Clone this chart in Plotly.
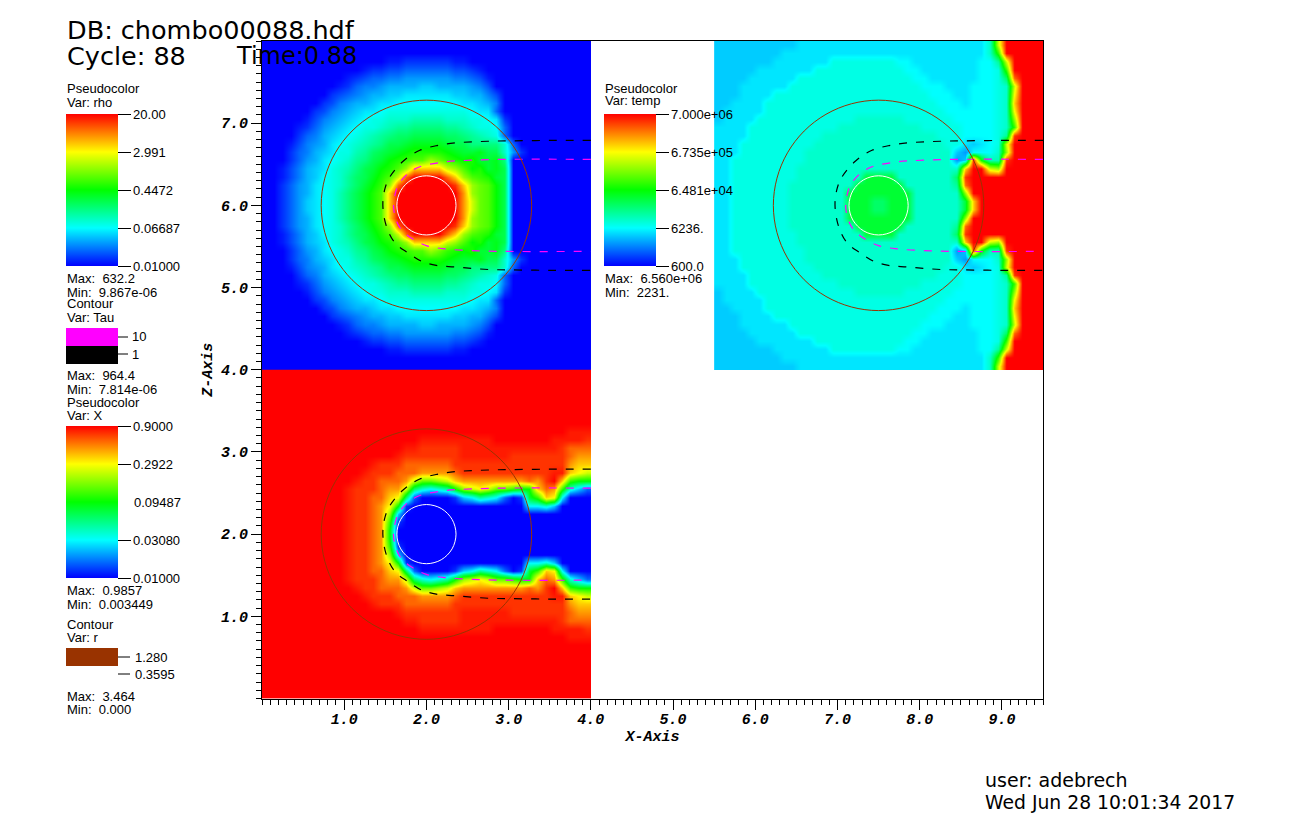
import plotly.graph_objects as go

W, H = 1305, 814  # the page keeps an 8px body margin, so everything below is offset by it
OFF = 8

# colour levels, one letter per 0.1 x 0.1 cell, top row first.
# a = blue, f = cyan, k = green, p = yellow, u = red, capital = half a step above
RHO_ROWS = [
    "aaaaaaaaaaaaaaaaaaaaaaaaaaaaaaaaaaaaaaaa",
    "aaaaaaaaaaaaaaaaaaaaaaaaaaaaaaaaaaaaaaaa",
    "aaaaaaaaaaaaaaaAAbbb" + "bbbAAaaaaaaaaaaaaaaa",
    "aaaaaaaaaaaaAbbBBccc" + "cccBBbAaaaaaaaaaaaaa",
    "aaaaaaaaaaAbBccCCddd" + "dddCCcBAaaaaaaaaaaaa",
    "aaaaaaaaaAbcCCdDDDDe" + "eDDDDdCBaaaaaaaaaaaa",
    "aaaaaaaabBcCdDDeeEEE" + "EEEeeDDCBaaaaaaaaaaa",
    "aaaaaaabBCdDDeEEffff" + "ffffEEeDCaaaaaaaaaaa",
    "aaaaaabBCdDeEEfFFFFF" + "FFFFFfEEcaaaaaaaaaaa",
    "aaaaaABCdDeEfFFgggGG" + "GGgggFFfEbaaaaaaaaaa",
    "aaaaAbcdDeEfFFgGhhHH" + "HHhhGgFFfcaaaaaaaaaa",
    "aaaabcCDeEfFgGhHiiII" + "IIiiHhGgFcaaaaaaaaaa",
    "aaaABCdDEfFgGhHIIjJJ" + "JJjIIHHHHgcaaaaaaaaa",
    "aaabcCDeEFFGhiIjJkKK" + "KKkJjjJIIgdbaaaaaaaa",
    "aaabcdDEfFghHIjkKlLL" + "nmlKkKjjJHaaaaaaaaaa",
    "aaABCDeEFgGHIjkKLnqq" + "qqonLkKjJIaaaaaaaaaa",
    "aaABCDefFghiIJKLosuu" + "uusqnLlKjIaaaaaaaaaa",
    "aabcdDEfFghijklnsuuu" + "uuutqnmLkIaaaaaaaaaa",
    "aabcdDEfFGHIJKLquuuu" + "uuuurnmLkIaaaaaaaaaa",
    "aabcdeEfFGHIJKLquuuu" + "uuuuromLkIaaaaaaaaaa",
    "aabcdeEfFGHIJKLquuuu" + "uuuuromLkIaaaaaaaaaa",
    "aabcdDEfFGHIJKLquuuu" + "uuuurnmLkIaaaaaaaaaa",
    "aabcdDEfFghijklnsuuu" + "uuutqnmLkIaaaaaaaaaa",
    "aaABCDefFghiIJKLosuu" + "uusqnLlKjIaaaaaaaaaa",
    "aaABCDeEFgGHIjkKLnqq" + "qqonLkKjJIaaaaaaaaaa",
    "aaabcdDEfFghHIjkKlLL" + "nmlKkKjjJHaaaaaaaaaa",
    "aaabcCDeEFFGhiIjJkKK" + "KKkJjjJIIgdbaaaaaaaa",
    "aaaABCdDEfFgGhHIIjJJ" + "JJjIIHHHHgcaaaaaaaaa",
    "aaaabcCDeEfFgGhHiiII" + "IIiiHhGgFcaaaaaaaaaa",
    "aaaaAbcdDeEfFFgGhhHH" + "HHhhGgFFfcaaaaaaaaaa",
    "aaaaaABCdDeEfFFgggGG" + "GGgggFFfEbaaaaaaaaaa",
    "aaaaaabBCdDeEEfFFFFF" + "FFFFFfEEcaaaaaaaaaaa",
    "aaaaaaabBCdDDeEEffff" + "ffffEEeDCaaaaaaaaaaa",
    "aaaaaaaabBcCdDDeeEEE" + "EEEeeDDCBaaaaaaaaaaa",
    "aaaaaaaaaAbcCCdDDDDe" + "eDDDDdCBaaaaaaaaaaaa",
    "aaaaaaaaaaAbBccCCddd" + "dddCCcBAaaaaaaaaaaaa",
    "aaaaaaaaaaaaAbbBBccc" + "cccBBbAaaaaaaaaaaaaa",
    "aaaaaaaaaaaaaaaAAbbb" + "bbbAAaaaaaaaaaaaaaaa",
    "aaaaaaaaaaaaaaaaaaaaaaaaaaaaaaaaaaaaaaaa",
    "aaaaaaaaaaaaaaaaaaaaaaaaaaaaaaaaaaaaaaaa",
]
TEMP_ROWS = [
    "eeeeeeeeeeEEEEEEEEEE" + "EEEEEEEEEEEEEgouuuuu",
    "eeeeeeeeEEEEEEEEEEEE" + "EEEEEEEEEEEEEgluuuuu",
    "eeeeeeeEEEEEEEFFFFFF" + "FFffEEEEEEEEffhouuuu",
    "eeeeeEEEEEEEFFFFFFFF" + "FFFffEEEEEEEffFluuuu",
    "eeeeEEEEEEFFFFFFFFFF" + "FFFFffEEEEEEffFisuuu",
    "eeeEEEEEEFFFFFFFFFFF" + "FFFFFfffEEEfffFgouuu",
    "eeeEEEEFFFFFFFFFFFFF" + "FFFFFFfffEEfffFgpuuu",
    "eeEEEEFFFFFFFFFFFFFF" + "FFFFFFFfffEfffFgquuu",
    "eEEEEEFFFFFFFFFFFFFF" + "FFFFFFFFffffffFgpuuu",
    "eEEEEFFFFFFFFFFFFggg" + "gggFFFFFFfffffFgnuuu",
    "EEEEFFFFFFFFFFFggggg" + "gggggFFFFFffffFgluuu",
    "EEEEFFFFFFFFFggggggg" + "gggggggFFFffffFhtuuu",
    "EEEFFFFFFFFFgggggggg" + "ggggggggFFEeEfFouuuu",
    "EEEFFFFFFFFggggggggg" + "gggggggggedfffgnuuuu",
    "EEFFFFFFFFFggggggggg" + "gggggggggdetkGGtuuuu",
    "EEFFFFFFFFgggggggggg" + "ggggggggggquuonuuuuu",
    "EEFFFFFFFFggggggggjj" + "jjgggggggituuuuuuuuu",
    "EEFFFFFFFggggggggjjj" + "jjjgggggghsuuuuuuuuu",
    "EEFFFFFFFgggggggjjjj" + "jjjjggggggnuuuuuuuuu",
    "EEFFFFFFFgggggggjjji" + "ijjjggggggjquuuuuuuu",
    "EEFFFFFFFgggggggjjji" + "ijjjggggggjquuuuuuuu",
    "EEFFFFFFFgggggggjjjj" + "jjjjggggggnuuuuuuuuu",
    "EEFFFFFFFggggggggjjj" + "jjjgggggghsuuuuuuuuu",
    "EEFFFFFFFFggggggggjj" + "jjgggggggituuuuuuuuu",
    "EEFFFFFFFFgggggggggg" + "ggggggggggquuonuuuuu",
    "EEFFFFFFFFFggggggggg" + "gggggggggdetkGGtuuuu",
    "EEEFFFFFFFFggggggggg" + "gggggggggedfffgnuuuu",
    "EEEFFFFFFFFFgggggggg" + "ggggggggFFEeEfFouuuu",
    "EEEEFFFFFFFFFggggggg" + "gggggggFFFffffFhtuuu",
    "EEEEFFFFFFFFFFFggggg" + "gggggFFFFFffffFgluuu",
    "eEEEEFFFFFFFFFFFFggg" + "gggFFFFFFfffffFgnuuu",
    "eEEEEEFFFFFFFFFFFFFF" + "FFFFFFFFffffffFgpuuu",
    "eeEEEEFFFFFFFFFFFFFF" + "FFFFFFFfffEfffFgquuu",
    "eeeEEEEFFFFFFFFFFFFF" + "FFFFFFfffEEfffFgpuuu",
    "eeeEEEEEEFFFFFFFFFFF" + "FFFFFfffEEEfffFgouuu",
    "eeeeEEEEEEFFFFFFFFFF" + "FFFFffEEEEEEffFisuuu",
    "eeeeeEEEEEEEFFFFFFFF" + "FFFffEEEEEEEffFluuuu",
    "eeeeeeeEEEEEEEFFFFFF" + "FFffEEEEEEEEffhouuuu",
    "eeeeeeeeEEEEEEEEEEEE" + "EEEEEEEEEEEEEgluuuuu",
    "eeeeeeeeeeEEEEEEEEEE" + "EEEEEEEEEEEEEgouuuuu",
]
X_ROWS = [
    "uuuuuuuuuuuuuuuuuuuuuuuuuuuuuuuuuuuuuuuu",
    "uuuuuuuuuuuuuuuuuuuuuuuuuuuuuuuuuuuuuuuu",
    "uuuuuuuuuuuuuuuuuuuuuuuuuuuuuuuuuuuuuuuu",
    "uuuuuuuuuuuuuuuuuuuuuuuuuuuuuuuuuuuuuuuu",
    "uuuuuuuuuuuuuuuuuuuuuuuuuuuuuuuuuuuuuuuu",
    "uuuuuuuuuuuuuuuuuuuuuuuuuuuuuuuuuuuuuuuu",
    "uuuuuuuuuuuuuuuuuuuuuuuuuuuuuuuuuuuuuuuu",
    "uuuuuuuuuuuuuuuuuuuuuuuuuuuuuuuuuuuuuTTT",
    "uuuuuuuuuuuuuuuuuuuTTTTTTTTTuuuuuuuTTTTt",
    "uuuuuuuuuuuuuuuuuTTtttttTTTTTTTTTTTTtsss",
    "uuuuuuuuuuuuuuuuTtttttttTTTTTTtttttttsrr",
    "uuuuuuuuuuuuuTtttssssssttttttttttttttrqq",
    "uuuuuuuuuuuuTtttsssrrrrstttttttttttTTqpo",
    "uuuuuuuuuuuTttsssrommnoqrrrrrrrrsrtuqlkk",
    "uuuuuuuuuuTtttsrroigfghknopommlkkqsrlgec",
    "uuuuuuuuuuTttssqpicaaaabefhgfcabjlqpfaaa",
    "uuuuuuuuuuTttsrpkbaaaaaaaaaaaaaaffgeaaaa",
    "uuuuuuuuuuTttsrneaaaaaaaaaaaaaaaaaaaaaaa",
    "uuuuuuuuuuTttsrlbaaaaaaaaaaaaaaaaaaaaaaa",
    "uuuuuuuuuuTttsrkaaaaaaaaaaaaaaaaaaaaaaaa",
    "uuuuuuuuuuTttsrkaaaaaaaaaaaaaaaaaaaaaaaa",
    "uuuuuuuuuuTttsrlbaaaaaaaaaaaaaaaaaaaaaaa",
    "uuuuuuuuuuTttsrneaaaaaaaaaaaaaaaaaaaaaaa",
    "uuuuuuuuuuTttsrpkbaaaaaaaaaaaaaaffgeaaaa",
    "uuuuuuuuuuTttssqpicaaaabefhgfcabjlqpfaaa",
    "uuuuuuuuuuTtttsrroigfghknopommlkkqsrlgec",
    "uuuuuuuuuuuTttsssrommnoqrrrrrrrrsrtuqlkk",
    "uuuuuuuuuuuuTtttsssrrrrstttttttttttTTqpo",
    "uuuuuuuuuuuuuTtttssssssttttttttttttttrqq",
    "uuuuuuuuuuuuuuuuTtttttttTTTTTTtttttttsrr",
    "uuuuuuuuuuuuuuuuuTTtttttTTTTTTTTTTTTtsss",
    "uuuuuuuuuuuuuuuuuuuTTTTTTTTTuuuuuuuTTTTt",
    "uuuuuuuuuuuuuuuuuuuuuuuuuuuuuuuuuuuuuTTT",
    "uuuuuuuuuuuuuuuuuuuuuuuuuuuuuuuuuuuuuuuu",
    "uuuuuuuuuuuuuuuuuuuuuuuuuuuuuuuuuuuuuuuu",
    "uuuuuuuuuuuuuuuuuuuuuuuuuuuuuuuuuuuuuuuu",
    "uuuuuuuuuuuuuuuuuuuuuuuuuuuuuuuuuuuuuuuu",
    "uuuuuuuuuuuuuuuuuuuuuuuuuuuuuuuuuuuuuuuu",
    "uuuuuuuuuuuuuuuuuuuuuuuuuuuuuuuuuuuuuuuu",
    "uuuuuuuuuuuuuuuuuuuuuuuuuuuuuuuuuuuuuuuu",
]

# contour curves
TAU1_X = [4.0, 3.5, 3.0, 2.75, 2.35, 2.14, 1.92, 1.72, 1.557, 1.497, 1.47, 1.515, 1.62, 1.78, 1.94, 2.12, 2.35, 2.75, 3.0, 3.5, 4.0]
TAU1_Z = [6.79, 6.79, 6.785, 6.78, 6.76, 6.73, 6.67, 6.54, 6.35, 6.21, 6.0, 5.74, 5.54, 5.42, 5.32, 5.27, 5.25, 5.22, 5.215, 5.21, 5.21]
TAU10_X = [4.0, 2.95, 2.55, 2.23, 1.92, 1.78, 1.66, 1.618, 1.6, 1.64, 1.70, 1.82, 2.0, 2.23, 2.55, 2.95, 4.0]
TAU10_Z = [6.56, 6.56, 6.55, 6.53, 6.47, 6.39, 6.25, 6.13, 5.98, 5.80, 5.70, 5.60, 5.51, 5.47, 5.45, 5.44, 5.44]
R_OUTER_DX = [1.28, 1.236, 1.108, 0.905, 0.64, 0.331, 0.0, -0.331, -0.64, -0.905, -1.108, -1.236, -1.28, -1.236, -1.108, -0.905, -0.64, -0.331, 0.0, 0.331, 0.64, 0.905, 1.108, 1.236, 1.28]
R_OUTER_DZ = [0.0, 0.331, 0.64, 0.905, 1.108, 1.236, 1.28, 1.236, 1.108, 0.905, 0.64, 0.331, 0.0, -0.331, -0.64, -0.905, -1.108, -1.236, -1.28, -1.236, -1.108, -0.905, -0.64, -0.331, 0.0]
R_INNER_DX = [0.36, 0.312, 0.18, 0.0, -0.18, -0.312, -0.36, -0.312, -0.18, 0.0, 0.18, 0.312, 0.36]
R_INNER_DZ = [0.0, 0.18, 0.312, 0.36, 0.312, 0.18, 0.0, -0.18, -0.312, -0.36, -0.312, -0.18, 0.0]

X_AXIS_TICKS = [1, 2, 3, 4, 5, 6, 7, 8, 9]
Z_AXIS_TICKS = [1, 2, 3, 4, 5, 6, 7]
RHO_TICKS = ["0.01000", "0.06687", "0.4472", "2.991", "20.00"]
TEMP_TICKS = ["600.0", "6236.", "6.481e+04", "6.735e+05", "7.000e+06"]
X_TICKS = ["0.01000", "0.03080", "0.2922", "0.9000"]
TICK_POS = [0, 0.25, 0.5, 0.75, 1]
X_TICK_POS = [0, 0.25, 0.75, 1]

HOT = [[0, "rgb(0,0,255)"], [0.25, "rgb(0,255,255)"], [0.5, "rgb(0,255,0)"],
       [0.75, "rgb(255,255,0)"], [1, "rgb(255,0,0)"]]
SANS = "Liberation Sans"
HEAD = "DejaVu Sans"
MONO = "Liberation Mono"


def decode(rows):
    """Turn the letter rows into 0-1 colour positions, bottom row first"""
    out = []
    for row in rows[::-1]:
        assert len(row) == 40, (len(row), row)
        vals = []
        for c in row:
            lev = ord(c.lower()) - 97
            if c.isupper():
                lev += 0.5
            vals.append(lev / 20)
        out.append(vals)
    return out


def px(x):
    return (x - OFF) / W


def py(y):
    return 1 - (y - OFF) / H


def colorbar(x, y, vals, labels):
    return dict(x=px(x), xanchor="left", y=py(y), yanchor="top", len=152, lenmode="pixels",
                thickness=52, thicknessmode="pixels", xpad=0, ypad=0, outlinewidth=0,
                tickmode="array", tickvals=vals, ticktext=labels, ticks="outside",
                ticklen=13, tickcolor="black", tickwidth=1,
                tickfont=dict(family=SANS, size=13, color="black"))


fig = go.Figure()

panels = [
    (RHO_ROWS, 0.05, 4.05, colorbar(66, 114, TICK_POS, RHO_TICKS)),
    (X_ROWS, 0.05, 0.05, colorbar(66, 426, X_TICK_POS, X_TICKS)),
    (TEMP_ROWS, 5.55, 4.05, colorbar(604, 114, TICK_POS, TEMP_TICKS)),
]
for rows, x0, y0, cbar in panels:
    fig.add_trace(go.Heatmap(z=decode(rows), x0=x0, dx=0.1, y0=y0, dy=0.1, zmin=0, zmax=1,
                             colorscale=HOT, zsmooth="best", colorbar=cbar, hoverinfo="skip"))

# same contours in each of the three panels
offsets = [(0, 0), (0, -4), (5.5, 0)]
centre_x, centre_z = 2.0, 6.0
for ox, oz in offsets:
    for xs, zs, col in [(TAU1_X, TAU1_Z, "black"), (TAU10_X, TAU10_Z, "magenta")]:
        fig.add_trace(go.Scatter(x=[v + ox for v in xs], y=[v + oz for v in zs], mode="lines",
                                 line=dict(color=col, width=1.2, dash="8px,9px", shape="spline"),
                                 showlegend=False, hoverinfo="skip"))
    for xs, zs, col in [(R_OUTER_DX, R_OUTER_DZ, "#993300"), (R_INNER_DX, R_INNER_DZ, "white")]:
        fig.add_trace(go.Scatter(x=[v + centre_x + ox for v in xs], y=[v + centre_z + oz for v in zs],
                                 mode="lines", line=dict(color=col, width=1, shape="spline"),
                                 showlegend=False, hoverinfo="skip"))

axis_font = dict(family=MONO, size=15, color="black", weight="bold", style="italic")
title_font = dict(family=MONO, size=15, color="black", weight="bold", style="italic")
common = dict(showgrid=False, zeroline=False, showline=True, linecolor="black", linewidth=1, mirror=True,
              ticks="outside", ticklen=10, tickcolor="black", tickwidth=1, tickfont=axis_font,
              tickmode="array", tickformat=".1f",
              minor=dict(tickmode="linear", dtick=0.1, tick0=0, ticks="outside", ticklen=5,
                         tickcolor="black", tickwidth=1))

fig.update_xaxes(domain=[px(262), px(1043)], range=[0, 9.5], tickvals=X_AXIS_TICKS, ticklabelstandoff=-4,
                 title=dict(text="X-Axis", font=title_font, standoff=0), **common)
fig.update_yaxes(domain=[py(698.5), py(41)], range=[0, 8], tickvals=Z_AXIS_TICKS,
                 title=dict(text="Z-Axis", font=title_font, standoff=4), **common)

head_texts = [
    (66, 30, "DB: chombo00088.hdf", 25.5), (66, 56, "Cycle: 88", 25.5), (235, 56, "Time:0.88", 24),
    (984, 780, "user: adebrech", 19), (984, 802, "Wed Jun 28 10:01:34 2017", 18.8),
]
texts = [
    (66, 89, "Pseudocolor", 13), (66, 103, "Var: rho", 13),
    (66, 278, "Max:  632.2", 13), (66, 292, "Min:  9.867e-06", 13),
    (66, 303, "Contour", 13), (66, 317, "Var: Tau", 13),
    (131, 337, "10", 13), (131, 354, "1", 13),
    (66, 375, "Max:  964.4", 13), (66, 389, "Min:  7.814e-06", 13),
    (66, 402, "Pseudocolor", 13), (66, 415, "Var: X", 13),
    (133, 502, "0.09487", 13),
    (66, 590, "Max:  0.9857", 13), (66, 604, "Min:  0.003449", 13),
    (66, 624, "Contour", 13), (66, 637, "Var: r", 13),
    (134, 657, "1.280", 13), (134, 674, "0.3595", 13),
    (66, 696, "Max:  3.464", 13), (66, 709, "Min:  0.000", 13),
    (604, 88, "Pseudocolor", 13), (604, 101, "Var: temp", 13),
    (604, 279, "Max:  6.560e+06", 13), (604, 292, "Min:  2231.", 13),
]
for family, group in [(HEAD, head_texts), (SANS, texts)]:
    for x, y, text, size in group:
        fig.add_annotation(x=px(x), y=py(y), xref="paper", yref="paper", text=text.replace("  ", "&nbsp;&nbsp;"),
                           showarrow=False, xanchor="left", yanchor="middle", borderpad=0,
                           font=dict(family=family, size=size, color="black"))

# contour legend swatches and their tick marks
swatches = [(328, 346, "magenta"), (346, 364, "black"), (648, 666, "#993300")]
for y0, y1, col in swatches:
    fig.add_shape(type="rect", xref="paper", yref="paper", x0=px(66), x1=px(118), y0=py(y0), y1=py(y1),
                  fillcolor=col, line_width=0)
for y, x1 in [(337, 128), (354, 128), (657, 130), (674, 130)]:
    fig.add_shape(type="line", xref="paper", yref="paper", x0=px(118), x1=px(x1), y0=py(y), y1=py(y),
                  line=dict(color="black", width=1))

fig.update_layout(width=W, height=H, margin=dict(l=0, r=0, t=0, b=0, pad=0, autoexpand=False),
                  paper_bgcolor="white", plot_bgcolor="white", showlegend=False)

fig.write_html("out.html")
